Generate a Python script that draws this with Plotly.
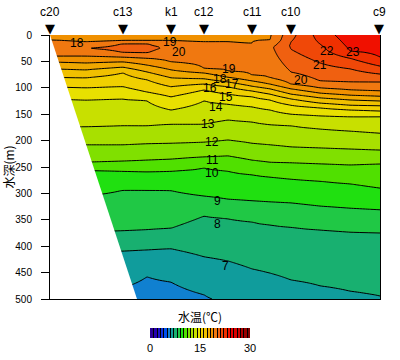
import numpy as np
import plotly.graph_objects as go

# ---- stations along the section (distance units along the section) ----
station_names = ["c20", "c13", "k1", "c12", "c11", "c10", "c9"]
station_x = [0, 73, 121, 154, 202, 241, 329]

# ---- temperature profiles read from the section: (depth m, temperature degC) ----
section_x = [0, 36, 73, 97, 121, 154, 178, 202, 220, 241, 270, 300, 330]

p00_d = [0, 9.5, 25, 40, 51, 64, 80, 98, 121, 174, 208, 237, 252, 307, 375, 413, 500]
p00_t = [18.6, 19, 19.8, 19, 18, 17, 16, 15, 14, 13, 12, 11, 10, 9, 8, 7, 6.2]
p01_d = [0, 13, 25, 40, 53, 66, 81, 100, 123, 174, 208, 241, 256, 305, 373, 411, 500]
p01_t = [18.7, 19, 19.95, 19, 18, 17, 16, 15, 14, 13, 12, 11, 10, 9, 8, 7, 6.0]
p02_d = [0, 11, 16, 25, 33, 42, 51, 61, 72, 98, 121, 172, 208, 239, 258, 294, 371, 409, 479, 500]
p02_t = [18.8, 19, 20, 20.3, 20, 19, 18, 17, 16, 15, 14, 13, 12, 11, 10, 9, 8, 7, 6, 5.8]
p03_d = [0, 11, 16, 25, 34, 44, 57, 70, 85, 108, 125, 172, 206, 237, 259, 294, 369, 407, 458, 500]
p03_t = [18.85, 19, 20, 20.3, 20, 19, 18, 17, 16, 15, 14, 13, 12, 11, 10, 9, 8, 7, 6, 5.6]
p04_d = [0, 11, 23, 51, 66, 81, 98, 117, 142, 169, 205, 235, 258, 295, 366, 405, 468, 500]
p04_t = [18.9, 19, 19.8, 19, 18, 17, 16, 15, 14, 13, 12, 11, 10, 9, 8, 7, 6, 5.7]
p05_d = [0, 13, 32, 63, 72, 83, 93, 104, 125, 169, 203, 231, 252, 305, 343, 420, 492, 500]
p05_t = [18.9, 19, 19.5, 19, 18, 17, 16, 15, 14, 13, 12, 11, 10, 9, 8, 7, 6, 5.95]
p06_d = [0, 13, 38, 68, 80, 89, 98, 112, 131, 161, 199, 229, 258, 311, 348, 428, 500]
p06_t = [18.95, 19, 19.5, 19, 18, 17, 16, 15, 14, 13, 12, 11, 10, 9, 8, 7, 6.1]
p07_d = [0, 15, 42, 76, 87, 97, 106, 117, 136, 165, 205, 237, 265, 314, 354, 443, 500]
p07_t = [18.95, 19, 19.5, 19, 18, 17, 16, 15, 14, 13, 12, 11, 10, 9, 8, 7, 6.3]
p08_d = [0, 9.5, 23, 40, 81, 93, 102, 112, 123, 142, 170, 208, 241, 269, 316, 360, 451, 500]
p08_t = [18.9, 19, 19.8, 19.6, 19, 18, 17, 16, 15, 14, 13, 12, 11, 10, 9, 8, 7, 6.4]
p09_d = [0, 13, 20, 27, 70, 93, 102, 112, 121, 133, 150, 172, 212, 242, 273, 318, 364, 464, 500]
p09_t = [20.7, 21, 21.1, 21, 20, 19, 18, 17, 16, 15, 14, 13, 12, 11, 10, 9, 8, 7, 6.5]
p10_d = [0, 17, 53, 87, 100, 110, 119, 129, 138, 153, 178, 214, 244, 277, 324, 369, 475, 500]
p10_t = [22.4, 22, 21, 20, 19, 18, 17, 16, 15, 14, 13, 12, 11, 10, 9, 8, 7, 6.7]
p11_d = [0, 30, 44, 64, 89, 104, 114, 123, 133, 142, 155, 182, 216, 246, 282, 328, 373, 485, 500]
p11_t = [23.6, 23, 22, 21, 20, 19, 18, 17, 16, 15, 14, 13, 12, 11, 10, 9, 8, 7, 6.85]
p12_d = [0, 42, 59, 74, 89, 106, 116, 125, 134, 144, 155, 186, 218, 244, 290, 331, 375, 494, 500]
p12_t = [24.0, 23, 22, 21, 20, 19, 18, 17, 16, 15, 14, 13, 12, 11, 10, 9, 8, 7, 6.97]

profiles = [(p00_d, p00_t), (p01_d, p01_t), (p02_d, p02_t), (p03_d, p03_t),
            (p04_d, p04_t), (p05_d, p05_t), (p06_d, p06_t), (p07_d, p07_t),
            (p08_d, p08_t), (p09_d, p09_t), (p10_d, p10_t), (p11_d, p11_t),
            (p12_d, p12_t)]

# ---- sea floor (no-data wedge) ----
seafloor_x = [0, 87]
seafloor_depth = [0, 500]

# ---- contour labels ----
label_text = ["18", "19", "20", "19", "18", "16", "17", "15", "14", "13", "12",
              "11", "10", "9", "8", "7", "20", "21", "22", "23"]
label_x = [27, 120, 129, 179, 170, 160, 182, 176, 166, 158, 162,
           162, 162, 167, 167, 175, 251, 270, 277, 303]
label_depth = [15, 14, 33, 65, 84, 100, 93, 117, 136, 169, 203,
               237, 262, 314, 358, 437, 86, 56, 30, 32]

# ---- colours for each 1 degC band (0-1 ... 29-30) ----
band_colors = ["#2a0094", "#2400b0", "#1a10c8", "#1030e0", "#0050f0", "#1080d0",
               "#109c9c", "#18b070", "#20c845", "#20e010", "#50e000", "#80e000",
               "#a8e000", "#c8e000", "#e8e000", "#f0d000", "#f0c000", "#f0a800",
               "#f09000", "#f07810", "#f06010", "#f04808", "#f03000", "#f01000",
               "#e80000", "#d80000", "#c80000", "#b00000", "#980000", "#800000"]

depth_grid = np.arange(0, 500.1, 2.5)
z = np.column_stack([np.interp(depth_grid, d, t) for d, t in profiles])
n = len(band_colors)
colorscale = [[k / (n - 1), c] for k, c in enumerate(band_colors)]

fig = go.Figure()
fig.add_trace(go.Contour(
    x=section_x, y=depth_grid, z=z,
    autocontour=False,
    contours=dict(start=1, end=29, size=1, coloring="fill", showlines=True),
    line=dict(color="black", width=1, smoothing=0.5),
    colorscale=colorscale, zmin=0, zmax=30,
    hoverinfo="skip",
    colorbar=dict(
        orientation="h", thickness=10, thicknessmode="pixels",
        len=100, lenmode="pixels",
        x=150 / 330, xanchor="center", y=-0.045, yanchor="top",
        xpad=0, ypad=0, outlinewidth=0,
        tickvals=[0, 15, 30], ticks="",
        tickfont=dict(family="Liberation Sans", size=11, color="black"),
        title=dict(text="水温(℃)", side="top",
                   font=dict(family="Noto Sans CJK JP", size=12, color="black")),
    ),
))

fig.add_trace(go.Scatter(
    x=[seafloor_x[0], seafloor_x[1], seafloor_x[0], seafloor_x[0]],
    y=[seafloor_depth[0], seafloor_depth[1], seafloor_depth[1], seafloor_depth[0]],
    fill="toself", fillcolor="white", mode="lines", line=dict(width=0, color="white"),
    hoverinfo="skip", showlegend=False))

# station markers and names (annotations are not clipped by the plot area)
for name, sx in zip(station_names, station_x):
    fig.add_annotation(x=sx, y=0, text="▼", showarrow=False, yanchor="bottom",
                       yshift=-3, font=dict(family="DejaVu Sans", size=13, color="black"))
    fig.add_annotation(x=sx, y=0, text=name, showarrow=False, yanchor="middle",
                       yshift=23, font=dict(family="Liberation Sans", size=12, color="black"))

for t, xx, dd in zip(label_text, label_x, label_depth):
    fig.add_annotation(x=xx, y=dd, text=t, showarrow=False,
                       font=dict(family="Liberation Sans", size=12, color="black"))

fig.update_xaxes(range=[0, 330], showline=True, linecolor="black", linewidth=1,
                 showticklabels=False, ticks="", showgrid=False, zeroline=False,
                 automargin=False)
fig.update_yaxes(range=[500, 0], showline=True, mirror=True, linecolor="black", linewidth=1,
                 tickvals=list(range(0, 501, 50)), ticks="outside", ticklen=8,
                 ticklabelstandoff=7, automargin=False,
                 tickcolor="black", tickfont=dict(family="Liberation Sans", size=10, color="black"),
                 showgrid=False, zeroline=False,
                 title=dict(text="水深(m)", standoff=0,
                            font=dict(family="Noto Sans CJK JP", size=12, color="black")))

fig.update_layout(width=400, height=360,
                  margin=dict(l=50, r=20, t=35, b=61, autoexpand=False),
                  paper_bgcolor="white", plot_bgcolor="white", showlegend=False)

fig.write_html("out.html", config={"displayModeBar": False},
               post_script="document.body.style.margin='0px';document.body.style.padding='0px';")
